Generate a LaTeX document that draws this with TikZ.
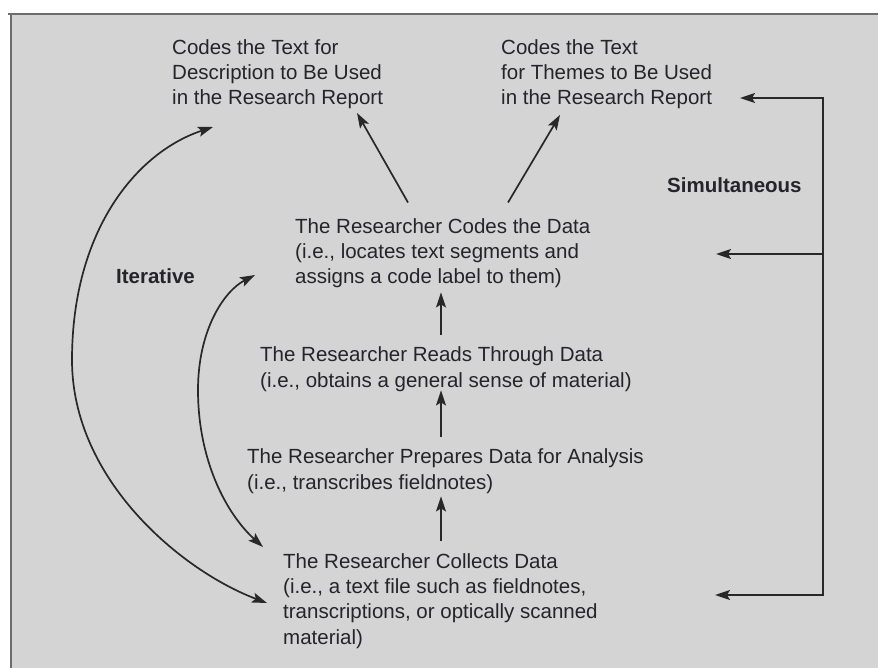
\documentclass[tikz,border=0pt]{standalone}
\usepackage{fontspec}
\setmainfont{Liberation Sans}
\usetikzlibrary{arrows.meta,calc}
\definecolor{panel}{RGB}{212,212,212}
\definecolor{frame}{RGB}{108,108,108}
\definecolor{ink}{RGB}{36,36,42}
\definecolor{wire}{RGB}{40,40,40}
\begin{document}
\begin{tikzpicture}[x=1pt,y=-1pt,
  >={Stealth[length=15pt,width=10pt,inset=3pt]},
  stagetext/.style={font=\fontsize{20.5}{25.2}\selectfont, text=ink, align=left,
    anchor=base west, inner sep=0pt},
  tag/.style={font=\fontsize{20.5}{25.2}\selectfont\bfseries, text=ink,
    anchor=base west, inner sep=0pt},
  link/.style={draw=wire, line width=1.7pt, line join=miter},
]
\useasboundingbox (0,0) rectangle (878,668);
\fill[white] (0,0) rectangle (878,668);
\fill[panel] (11,14) rectangle (878,668);
\draw[frame, line width=2.5pt] (8,14) -- (878,14);
\draw[frame, line width=2.5pt] (11,14) -- (11,668);

% outputs of the coding step (placed by the baseline of their last line)
\node[stagetext] (desc) at (172,105)
  {Codes the Text for\\Description to Be Used\\in the Research Report};
\node[stagetext] (themes) at (501,105)
  {Codes the Text\\for Themes to Be Used\\in the Research Report};

% the chain of steps
\node[stagetext] (codes) at (295,284)
  {The Researcher Codes the Data\\(i.e., locates text segments and\\assigns a code label to them)};
\node[stagetext] (reads) at (260,387)
  {The Researcher Reads Through Data\\(i.e., obtains a general sense of material)};
\node[stagetext] (prepares) at (247,489)
  {The Researcher Prepares Data for Analysis\\(i.e., transcribes fieldnotes)};
\node[stagetext] (collects) at (283,644)
  {The Researcher Collects Data\\(i.e., a text file such as fieldnotes,\\transcriptions, or optically scanned\\material)};

% side labels
\node[tag] (iter) at (116,284) {Iterative};
\node[tag] (simul) at (667,193) {Simultaneous};

% upward chain
\coordinate (stem) at (441,0);
\draw[link,->] ($(reads.north -| stem)+(0,-12)$) -- ($(codes.south -| stem)+(0,4)$);
\draw[link,->] ($(prepares.north -| stem)+(0,-12)$) -- ($(reads.south -| stem)+(0,-1)$);
\draw[link,->] ($(collects.north -| stem)+(0,-12)$) -- ($(prepares.south -| stem)+(0,3)$);

% coding branches out to the two outputs
\draw[link,->] ($(codes.north west)+(113,-16)$) -- ($(desc.south west)+(185,3.5)$);
\draw[link,->] ($(codes.north west)+(213,-16)$) -- ($(themes.south west)+(59,5.5)$);

% iterative loops
\coordinate (outerTop) at (213,127);
\coordinate (outerBot) at (267,603);
\coordinate (innerTop) at (255,275);
\coordinate (innerBot) at (263,547);
\draw[link,<->] (outerTop) .. controls (137,152) and (72,230) .. (72,360)
  .. controls (72,480) and (182,571) .. (outerBot);
\draw[link,<->] (innerTop) .. controls (224,291) and (198,330) .. (198,390)
  .. controls (198,460) and (226,513.5) .. (innerBot);

% simultaneous bracket
\coordinate (rail) at (823,0);
\coordinate (simTop) at (740,98);
\coordinate (simMid) at (716,254);
\coordinate (simBot) at (715,595);
\draw[link,<->] (simTop) -- (simTop -| rail) -- (simBot -| rail) -- (simBot);
\draw[link,->] (simMid -| rail) -- (simMid);
\end{tikzpicture}
\end{document}
